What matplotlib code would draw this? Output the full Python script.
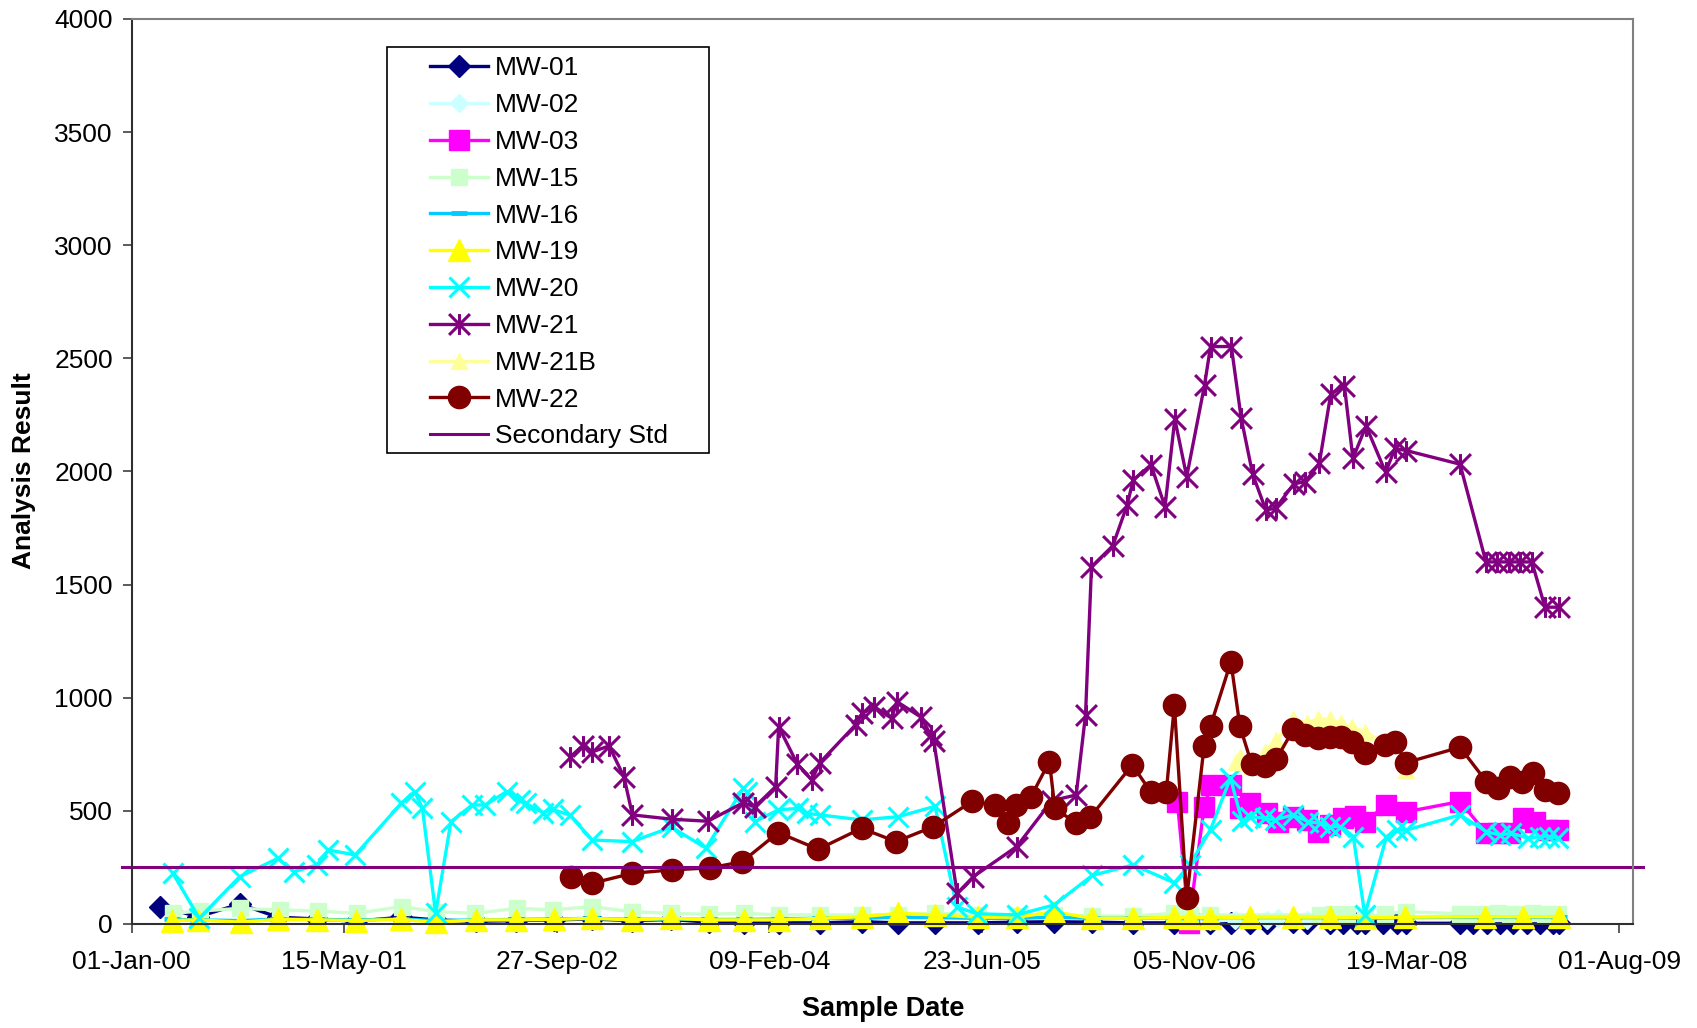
import matplotlib
matplotlib.use('Agg')
import matplotlib.pyplot as plt
import numpy as np
from matplotlib.path import Path
from matplotlib.patches import Rectangle
from datetime import datetime, timedelta

plt.rcParams['font.family'] = ['Liberation Sans', 'DejaVu Sans']

DAY0 = 36526  # Excel serial for 01-Jan-2000, sample days count from here

# sample days and results per well
mw01_day = [67, 157, 254, 344, 436, 528, 634, 715, 810, 904, 994, 1082, 1177, 1269, 1357, 1441,
            1522, 1619, 1717, 1802, 1890, 1990, 2082, 2170, 2259, 2356, 2453, 2490, 2537, 2586,
            2630, 2670, 2731, 2764, 2819, 2850, 2882, 2901, 2944, 2976, 2999, 3125, 3156, 3188,
            3219, 3250, 3282, 3313, 3344, 3357]
mw01_val = [77, 32, 88, 30, 22, 12, 30, 18, 12, 15, 18, 22, 15, 20, 8, 5,
            5, 5, 10, 5, 5, 5, 8, 10, 8, 5, 5, 8, 5, 3,
            5, 3, 8, 3, 3, 3, 3, 3, 3, 3, 3, 3, 3, 3,
            3, 3, 3, 3, 3, 3]

mw02_day = [2490, 2537, 2595, 2630, 2670, 2697, 2733, 2764, 2819]
mw02_val = [10, 12, 18, 20, 18, 25, 20, 18, 15]

mw03_day = [2460, 2487, 2523, 2539, 2586, 2607, 2631, 2670, 2697, 2733, 2764, 2791, 2819,
            2850, 2878, 2901, 2952, 2999, 3125, 3187, 3215, 3242, 3274, 3301, 3332, 3356]
mw03_val = [541, 5, 516, 614, 614, 511, 533, 489, 452, 474, 460, 408, 438,
            467, 477, 452, 526, 496, 541, 401, 401, 401, 467, 452, 415, 415]

mw15_day = [97, 160, 255, 349, 439, 529, 635, 717, 808, 906, 990, 1082, 1177, 1269, 1357,
            1441, 1522, 1619, 1717, 1802, 1890, 1990, 2082, 2170, 2259, 2356, 2453, 2490,
            2537, 2795, 2826, 2858, 2901, 2948, 2999, 3125, 3156, 3187, 3215, 3242, 3270,
            3297, 3325, 3356]
mw15_val = [47, 57, 69, 62, 57, 47, 77, 54, 47, 69, 62, 77, 54, 47, 43,
            47, 40, 40, 40, 40, 47, 40, 35, 40, 35, 35, 47, 40,
            40, 40, 45, 45, 30, 45, 54, 45, 45, 45, 48, 45, 45,
            48, 45, 45]

mw19_day = [94, 157, 256, 344, 436, 528, 634, 715, 810, 904, 994, 1082, 1177, 1269, 1357,
            1441, 1522, 1619, 1717, 1802, 1890, 1990, 2082, 2170, 2259, 2356, 2453, 2490,
            2537, 2630, 2731, 2819, 2901, 2995, 3184, 3272, 3357]
mw19_val = [15, 18, 8, 20, 18, 15, 20, 8, 18, 18, 20, 25, 18, 25, 18,
            18, 18, 25, 32, 47, 40, 30, 30, 54, 25, 25, 30, 28,
            28, 30, 30, 30, 28, 30, 32, 32, 32]

mw16_day = mw19_day
mw16_val = [20, 18, 15, 22, 20, 18, 22, 15, 18, 20, 22, 25, 20, 22, 20,
            20, 22, 25, 25, 30, 28, 25, 25, 30, 25, 25, 28, 25,
            28, 28, 28, 28, 25, 28, 30, 30, 30]

mw20_day = [97, 159, 254, 344, 382, 436, 463, 526, 634, 666, 684, 715, 751, 801, 832, 882,
            913, 927, 968, 990, 1030, 1084, 1177, 1270, 1351, 1439, 1447, 1466, 1521, 1568,
            1588, 1619, 1717, 1803, 1890, 1941, 1989, 2082, 2170, 2260, 2356, 2453, 2489,
            2538, 2585, 2612, 2631, 2666, 2689, 2732, 2768, 2795, 2819, 2842, 2874, 2901,
            2952, 2976, 2999, 3125, 3187, 3219, 3246, 3285, 3313, 3335, 3356]
mw20_val = [224, 25, 209, 290, 231, 261, 327, 305, 533, 585, 511, 47, 452, 526, 526, 585,
            548, 533, 492, 506, 482, 371, 364, 428, 335, 600, 585, 452, 504, 511,
            489, 482, 460, 474, 520, 75, 45, 40, 84, 215, 261, 182, 262,
            417, 645, 455, 474, 467, 460, 482, 452, 445, 430, 430, 386, 40,
            386, 415, 415, 482, 408, 393, 401, 379, 386, 386, 380]

mw21_day = [1032, 1061, 1083, 1123, 1158, 1178, 1271, 1355, 1439, 1466, 1515, 1522, 1566,
            1600, 1619, 1703, 1719, 1747, 1788, 1800, 1857, 1880, 1887, 1942, 1980, 2082,
            2165, 2222, 2244, 2258, 2308, 2342, 2356, 2398, 2431, 2454, 2482, 2524, 2538,
            2587, 2610, 2637, 2668, 2691, 2734, 2761, 2794, 2821, 2853, 2873, 2904, 2950,
            2972, 2999, 3125, 3186, 3213, 3240, 3267, 3294, 3325, 3357]
mw21_val = [739, 787, 760, 787, 651, 482, 463, 454, 536, 518, 607, 872, 707,
            636, 713, 880, 931, 960, 909, 983, 914, 835, 809, 135, 209, 342,
            545, 570, 925, 1579, 1671, 1852, 1962, 2029, 1844, 2232, 1977, 2382, 2552,
            2552, 2238, 1989, 1830, 1837, 1945, 1955, 2036, 2343, 2378, 2058, 2201, 1996,
            2102, 2092, 2032, 1600, 1600, 1600, 1600, 1600, 1400, 1400]

mw21b_day = [2597, 2607, 2635, 2666, 2693, 2733, 2764, 2791, 2819, 2846, 2870, 2901, 2948,
             2972, 2999]
mw21b_val = [717, 740, 700, 760, 813, 906, 890, 906, 906, 887, 870, 850, 800, 810, 682]

mw22_day = [1033, 1083, 1178, 1270, 1361, 1436, 1521, 1615, 1717, 1798, 1886, 1978, 2031,
            2061, 2081, 2115, 2159, 2172, 2222, 2255, 2354, 2397, 2434, 2453, 2482, 2523,
            2538, 2586, 2607, 2635, 2666, 2693, 2733, 2760, 2791, 2819, 2846, 2870, 2901,
            2948, 2972, 2998, 3125, 3187, 3215, 3242, 3270, 3297, 3325, 3356]
mw22_val = [209, 180, 224, 239, 248, 275, 404, 330, 423, 364, 430, 543, 525,
            445, 524, 560, 718, 511, 445, 472, 703, 585, 585, 966, 114, 787,
            875, 1159, 875, 706, 700, 729, 860, 835, 821, 828, 828, 806, 754,
            791, 806, 713, 781, 629, 600, 651, 629, 666, 592, 580]

std_day = [-23, 3555]
std_val = [250, 250]

tick_days = np.arange(0, 3501, 500)


def serial(days):
    return DAY0 + np.asarray(days)


def excel_label(s):
    return (datetime(1899, 12, 30) + timedelta(days=int(s))).strftime('%d-%b-%y')


# Excel style star: an X with a vertical bar through it
star = Path([(0, -1), (0, 1), (-1, -1), (1, 1), (-1, 1), (1, -1)],
            [Path.MOVETO, Path.LINETO, Path.MOVETO, Path.LINETO, Path.MOVETO, Path.LINETO])

series = [
    ('MW-01', mw01_day, mw01_val, '#000080', 'D', 11, 1),
    ('MW-02', mw02_day, mw02_val, '#CCFFFF', 'D', 9, 1),
    ('MW-03', mw03_day, mw03_val, '#FF00FF', 's', 14, 1),
    ('MW-15', mw15_day, mw15_val, '#CCFFCC', 's', 11, 1),
    ('MW-16', mw16_day, mw16_val, '#00CCFF', '_', 12, 3.5),
    ('MW-19', mw19_day, mw19_val, '#FFFF00', '^', 16, 1),
    ('MW-20', mw20_day, mw20_val, '#00FFFF', 'x', 15, 2.2),
    ('MW-21', mw21_day, mw21_val, '#800080', star, 15, 2.2),
    ('MW-21B', mw21b_day, mw21b_val, '#FFFF99', '^', 12, 1),
    ('MW-22', mw22_day, mw22_val, '#800000', 'o', 16, 1),
]

fig = plt.figure(figsize=(16.97, 10.28), dpi=100)
ax = fig.add_axes([0.0776, 0.1012, 0.8847, 0.8804])

# markers near zero hang over the x axis, as in the spreadsheet chart
for name, d, v, c, m, ms, mew in series:
    ax.plot(serial(d), v, color=c, lw=2.4, marker=m, ms=ms, mfc=c, mec=c, mew=mew,
            label=name, clip_on=False)

ax.plot(serial(std_day), std_val, color='#800080', lw=2.2, label='Secondary Std', clip_on=False)

ax.set_xlim(DAY0, DAY0 + 3532)
ax.set_ylim(0, 4000)
ax.set_yticks(np.arange(0, 4001, 500))
ax.set_xticks(serial(tick_days))
ax.set_xticklabels([excel_label(s) for s in serial(tick_days)])
ax.tick_params(axis='both', direction='out', length=6.5, width=1.2, labelsize=19, color='#404040')
ax.tick_params(axis='y', pad=7)
ax.tick_params(axis='x', pad=12)

for side in ('left', 'bottom'):
    ax.spines[side].set_color('#303030')
    ax.spines[side].set_linewidth(1.5)
for side in ('top', 'right'):
    ax.spines[side].set_color('#808080')
    ax.spines[side].set_linewidth(1.5)

fig.text(883 / 1697, 1 - 1009 / 1028, 'Sample Date', ha='center', va='center',
         fontsize=19.5, fontweight='bold')
fig.text(24 / 1697, 1 - 471 / 1028, 'Analysis Result', ha='center', va='center',
         rotation=90, fontsize=19, fontweight='bold')

# legend box drawn separately so the side padding can be wider than the top/bottom
ax.add_patch(Rectangle((0.170, 0.5204), 0.2145, 0.4486, transform=ax.transAxes,
                       facecolor='white', edgecolor='black', lw=1.2, zorder=4.5))
ax.legend(loc='upper left', bbox_to_anchor=(0.1987, 0.9585), frameon=False, fontsize=19,
          borderpad=0, borderaxespad=0, handlelength=2.2, handletextpad=0.27,
          labelspacing=0.485)

fig.savefig('out.png', dpi=100)
